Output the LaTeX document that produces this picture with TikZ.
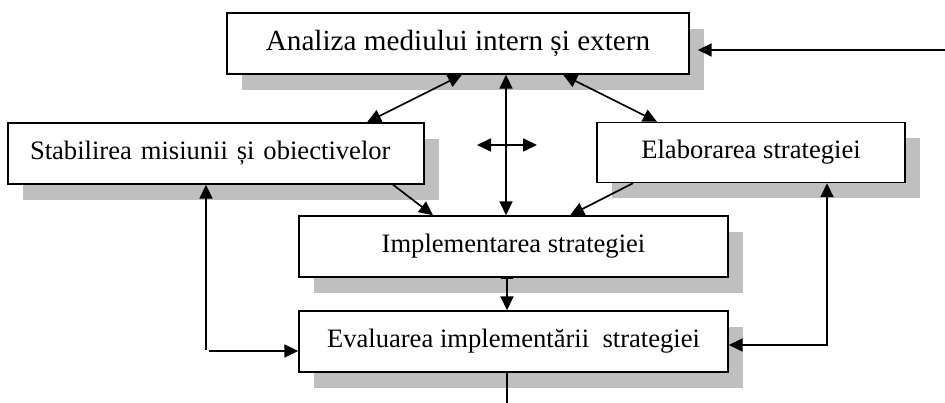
\documentclass[tikz,border=0pt]{standalone}
\usepackage{fontspec}
\setmainfont{Liberation Serif}
\usetikzlibrary{arrows.meta,shadows}

\definecolor{shadowgray}{RGB}{191,191,191}

\tikzset{
  stagebox/.style={draw=black, line width=1.4pt, fill=white, rectangle,
    inner sep=0pt, font=\fontsize{26.6}{30}\selectfont,
    drop shadow={shadow xshift=15pt, shadow yshift=-16pt, fill=shadowgray, opacity=1}},
  tip/.tip={Triangle[length=14pt,width=13pt]},
  link/.style={line width=1.7pt},
  oneway/.style={link, -tip},
  twoway/.style={link, tip-tip},
}

\begin{document}
\begin{tikzpicture}[x=1pt, y=-1pt]
\useasboundingbox (0,0) rectangle (945,403);

% stages
\node[stagebox, minimum width=462pt, minimum height=61pt, font=\fontsize{29.2}{33}\selectfont]
  (A) at (458,43.5) {Analiza mediului intern și extern};
\node[stagebox, minimum width=416pt, minimum height=61pt, text width=372pt, align=left]
  (S) at (216,153.5) {Stabilirea misiunii și obiectivelor};
\node[stagebox, minimum width=308pt, minimum height=60pt]
  (E) at (751,152.5) {Elaborarea strategiei};
\node[stagebox, minimum width=429pt, minimum height=61pt]
  (I) at (513.5,246.5) {Implementarea strategiei};
\node[stagebox, minimum width=429pt, minimum height=61pt]
  (V) at (513.5,341.5) {Evaluarea implementării\ \ strategiei};

% free ends and corners
\coordinate (TR) at (945,50);
\coordinate (Ae) at ([xshift=8pt]A.east);
\coordinate (Lv) at (206,350);
\coordinate (Lh) at (209,351);
\coordinate (Rc) at (827,345);
\coordinate (Bot) at (507,403);
\coordinate (Cl) at (477,145);
\coordinate (Cr) at (537,145);

% links between stages
\draw[twoway] ([xshift=4pt]A.south) -- ([xshift=151pt]S.north);
\draw[twoway] ([xshift=105pt]A.south) -- ([xshift=-94pt]E.north);
\draw[twoway] ([xshift=48pt]A.south) -- ([xshift=-7.5pt]I.north);
\draw[twoway] (Cl) -- (Cr);
\draw[oneway] ([xshift=177pt]S.south) -- ([xshift=-80.5pt]I.north);
\draw[oneway] ([xshift=-118pt]E.south) -- ([xshift=56.5pt]I.north);
\draw[link, {Bar[width=12pt,line width=1.2pt]}-tip] ([xshift=-6.5pt]I.south) -- ([xshift=-6.5pt]V.north);
\draw[link] ([xshift=-6.5pt]V.south) -- (Bot);

% feedback loops
\draw[oneway] (Lv) -- (Lv |- S.south);
\draw[oneway] (Lh) -- (Lh -| V.west);
\draw[twoway] (Rc |- E.south) -- (Rc) -- (Rc -| V.east);
\draw[oneway] (TR) -- (Ae |- TR);
\end{tikzpicture}
\end{document}
